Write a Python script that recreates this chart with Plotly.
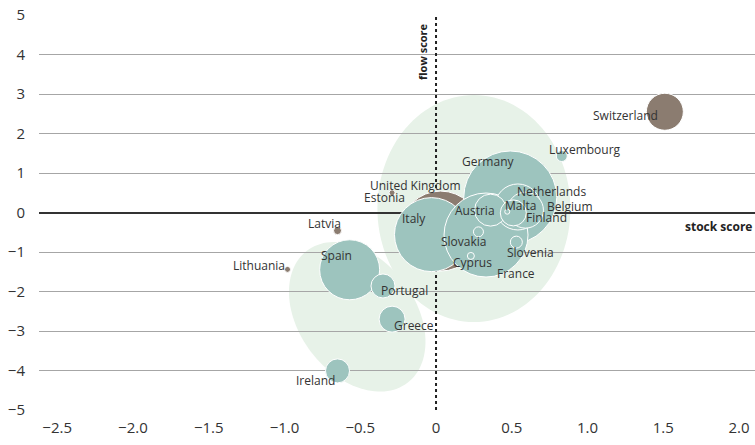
import math
import plotly.graph_objects as go

# ---- data ----
countries = ["United Kingdom", "Germany", "Italy", "France", "Spain", "Netherlands",
             "Switzerland", "Belgium", "Austria", "Greece", "Finland", "Portugal",
             "Ireland", "Slovenia", "Luxembourg", "Slovakia", "Latvia", "Cyprus",
             "Estonia", "Lithuania", "Malta"]
stock_score = [0.03, 0.49, -0.03, 0.33, -0.57, 0.54, 1.51, 0.59, 0.36, -0.29, 0.51, -0.35,
               -0.65, 0.53, 0.83, 0.28, -0.65, 0.23, -0.29, -0.98, 0.47]
flow_score = [-0.47, 0.38, -0.56, -0.57, -1.45, 0.14, 2.55, 0.06, 0.06, -2.70, -0.01, -1.86,
              -4.01, -0.75, 1.43, -0.49, -0.46, -1.10, 0.50, -1.44, 0.02]
bubble_size = [80, 93, 74, 84, 60, 46, 37, 36, 32, 26, 26, 24, 24, 12, 11, 10, 8, 7, 6, 6, 5]
group = ["other", "euro", "euro", "euro", "euro", "euro", "other", "euro", "euro", "euro",
         "euro", "euro", "euro", "euro", "euro", "euro", "other", "euro", "other", "other", "euro"]

x_ticks = [-2.5, -2.0, -1.5, -1.0, -0.5, 0, 0.5, 1.0, 1.5, 2.0]
x_ticktext = ["−2.5", "−2.0", "−1.5", "−1.0", "−0.5", "0", "0.5", "1.0", "1.5", "2.0"]
y_ticks = [5, 4, 3, 2, 1, 0, -1, -2, -3, -4, -5]
y_ticktext = ["5", "4", "3", "2", "1", "0", "−1", "−2", "−3", "−4", "−5"]

# ---- styling / layout ----
W, H = 755, 445
ML, MR, MT, MB = 39, 0, 15, 35
XR = [-2.62, 2.105]
YR = [-5, 5]
PXX = (W - ML - MR) / (XR[1] - XR[0])
PXY = (H - MT - MB) / (YR[1] - YR[0])

colors = {"euro": "#9dc4be", "other": "#8b7c70"}
FONT = "Open Sans"
TXT = "#333333"

# label offsets (pixels from bubble centre: right, down)
label_offset = {
    "Switzerland": (-39, 4), "Luxembourg": (23, -7), "Germany": (-22, -36),
    "United Kingdom": (-25, -46), "Estonia": (-8, 5), "Italy": (-17, -16),
    "Austria": (-16, 0), "Netherlands": (34, -15), "Malta": (13, -6),
    "Belgium": (45, -4), "Finland": (33, 5), "Slovakia": (-14, 10),
    "Slovenia": (14, 10), "Cyprus": (2, 7), "France": (30, 38),
    "Portugal": (22, 5), "Greece": (22, 6), "Ireland": (-22, 10),
    "Spain": (-13, -14), "Latvia": (-13, -7), "Lithuania": (-29, -4),
}

# background ellipses: centre (data), semi-axes (px), angle (deg, screen)
ellipses = [
    (0.25, 0.10, 96.5, 113.5, 0.0),
    (-0.52, -2.64, 83.0, 58.0, 52.7),
]


def ellipse_path(cx, cy, a, b, ang, n=120):
    th = math.radians(ang)
    pts = []
    for i in range(n):
        t = 2 * math.pi * i / n
        u, v = a * math.cos(t), b * math.sin(t)
        dx = u * math.cos(th) - v * math.sin(th)
        dy = u * math.sin(th) + v * math.cos(th)
        pts.append((cx + dx / PXX, cy - dy / PXY))
    return "M " + " L ".join(f"{px:.4f},{py:.4f}" for px, py in pts) + " Z"


fig = go.Figure()
fig.add_trace(go.Scatter(
    x=stock_score, y=flow_score, mode="markers", text=countries,
    marker=dict(size=bubble_size, sizemode="diameter",
                color=[colors[g] for g in group], opacity=1,
                line=dict(color="white", width=1)),
    hoverinfo="text", showlegend=False,
))

shapes = []
for cx, cy, a, b, ang in ellipses:
    shapes.append(dict(type="path", path=ellipse_path(cx, cy, a, b, ang),
                       xref="x", yref="y", fillcolor="#e7f2e8",
                       line=dict(width=0), layer="below"))
shapes.append(dict(type="line", x0=0, x1=0, y0=YR[0], y1=YR[1], xref="x", yref="y",
                   line=dict(color="#222222", width=2, dash="dot"), layer="between"))

annotations = []
for name, xv, yv in zip(countries, stock_score, flow_score):
    dx, dy = label_offset[name]
    annotations.append(dict(x=xv, y=yv, xref="x", yref="y", text=name, showarrow=False,
                            xshift=dx, yshift=-dy, xanchor="center", yanchor="middle",
                            font=dict(family=FONT, size=12, color=TXT)))
annotations.append(dict(x=1, xref="paper", y=0, yref="y", text="<b>stock score</b>",
                        showarrow=False, xanchor="right", yanchor="middle",
                        xshift=-1, yshift=-14,
                        font=dict(family=FONT, size=12, color="#222222")))
annotations.append(dict(x=0, xref="x", y=YR[1], yref="y", text="<b>flow score</b>",
                        showarrow=False, textangle=-90, xanchor="right", yanchor="top",
                        xshift=-4, yshift=-6,
                        font=dict(family=FONT, size=11, color="#222222")))

fig.update_layout(
    width=W, height=H, margin=dict(l=ML, r=MR, t=MT, b=MB),
    paper_bgcolor="white", plot_bgcolor="white",
    font=dict(family=FONT, size=15, color=TXT),
    shapes=shapes, annotations=annotations,
    xaxis=dict(range=XR, tickvals=x_ticks, ticktext=x_ticktext, showgrid=False,
               zeroline=False, showline=False, ticks="", ticklabelstandoff=7,
               tickfont=dict(family=FONT, size=15, color=TXT)),
    yaxis=dict(range=YR, tickvals=y_ticks, ticktext=y_ticktext, showgrid=True,
               gridcolor="#a6a6a6", gridwidth=1, zeroline=True,
               zerolinecolor="#333333", zerolinewidth=2, showline=False, ticks="",
               ticklabelstandoff=13, tickfont=dict(family=FONT, size=15, color=TXT)),
)

fig.write_html("out.html", config={"displayModeBar": False},
               post_script="document.body.style.margin='0';document.body.style.overflow='hidden';")
